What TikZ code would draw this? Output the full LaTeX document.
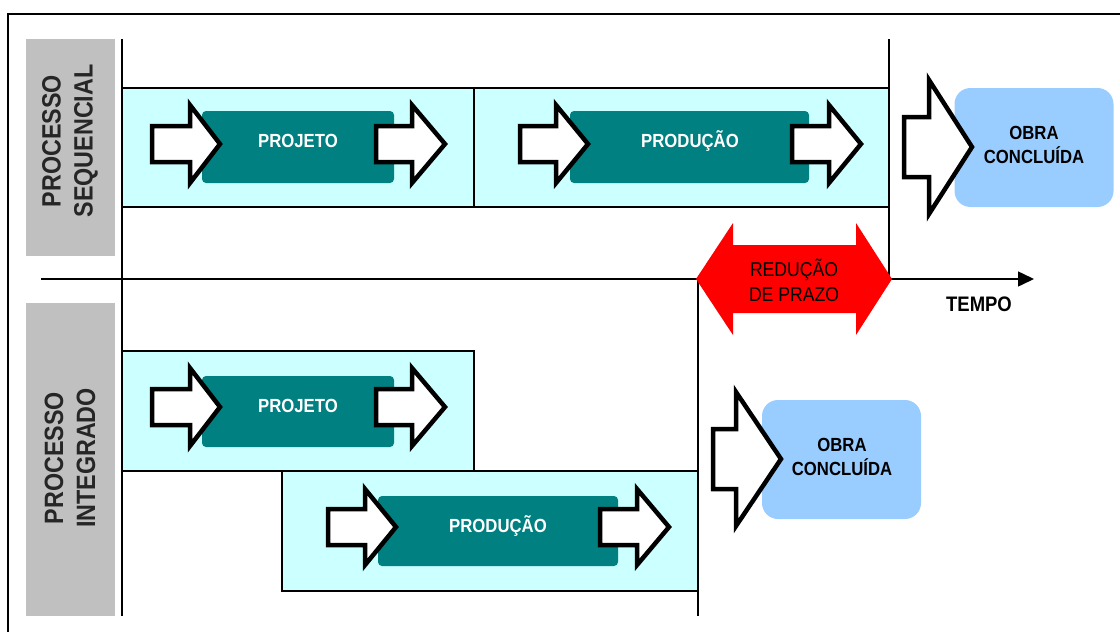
\documentclass[tikz,border=0pt]{standalone}
\usepackage{fontspec}
\setmainfont{Liberation Sans}[FakeStretch=0.88]
\usetikzlibrary{arrows.meta}

\definecolor{bandfill}{HTML}{CCFFFF}
\definecolor{tealbox}{HTML}{008080}
\definecolor{greybox}{HTML}{C0C0C0}
\definecolor{obrafill}{HTML}{99CCFF}
\definecolor{redarrow}{HTML}{FF0000}

\tikzset{
  band/.style={draw=black, line width=1.2pt, fill=bandfill},
  stage/.style={fill=tealbox, rounded corners=4pt, inner sep=0pt},
  stagetext/.style={text=white, font=\fontsize{19}{23}\selectfont\bfseries, inner sep=0pt},
  obrabox/.style={fill=obrafill, rounded corners=16pt, inner sep=0pt, minimum width=159pt, minimum height=119pt},
  obratext/.style={font=\fontsize{19}{24}\selectfont\bfseries, align=center, inner sep=0pt},
  sidebox/.style={fill=greybox, inner sep=0pt, minimum width=89pt},
  sidetext/.style={rotate=90, font=\fontsize{26.5}{32}\selectfont\bfseries, text=black!85, align=center, inner sep=0pt},
  axisline/.style={line width=1.5pt},
  arrowbody/.style={draw=black, fill=white, line width=4.5pt, line join=miter, miter limit=10},
}

% block arrow: start x, head base x, tip x, centre y, shaft half height, head half height
\newcommand\blockarrow[6]{%
  \draw[arrowbody] (#1,#4-#5) -- (#2,#4-#5) -- (#2,#4-#6) -- (#3,#4)
    -- (#2,#4+#6) -- (#2,#4+#5) -- (#1,#4+#5) -- cycle;}

\begin{document}
\begin{tikzpicture}[x=1pt, y=-1pt]
\useasboundingbox (0,0) rectangle (1120,632);

% outer frame
\draw[line width=1.5pt] (8,632) -- (8,14) -- (1120,14);

% side captions
\node[sidebox, minimum height=217pt] (seqside) at (70.5,147.5) {};
\node[sidetext] at (70,141) {PROCESSO\\SEQUENCIAL};
\node[sidebox, minimum height=313pt] (intside) at (70.5,459.5) {};
\node[sidetext] at (70,458) {PROCESSO\\INTEGRADO};

% sequential process bands
\draw[band] (122,88) rectangle (474,207);
\draw[band] (474,88) rectangle (889,207);
% integrated process bands
\draw[band] (122,351) rectangle (474,471);
\draw[band] (282,471) rectangle (698,591);

% time axis and reference lines
\coordinate (axisstart) at (41,279);
\coordinate (axisend) at (1034,279);
\draw[axisline, -{Triangle[length=16pt,width=15pt]}] (axisstart) -- (axisend);
\coordinate (v1top) at (122,39);
\coordinate (v1bot) at (122,616);
\draw[axisline] (v1top) -- (v1bot);
\coordinate (v2top) at (889,39);
\coordinate (v2bot) at (889,280);
\draw[axisline] (v2top) -- (v2bot);
\coordinate (v3top) at (698,279);
\coordinate (v3bot) at (698,616);
\draw[axisline] (v3top) -- (v3bot);
\node[font=\fontsize{21}{25}\selectfont\bfseries, inner sep=0pt] (tempo) at (979,304) {TEMPO};

% stage boxes
\node[stage, minimum width=192pt, minimum height=72pt] (pj1) at (298,147) {};
\node[stagetext] (pj1t) at (298,141) {PROJETO};
\node[stage, minimum width=239pt, minimum height=72pt] (pd1) at (689.5,147) {};
\node[stagetext] (pd1t) at (690,141) {PRODUÇÃO};
\node[stage, minimum width=192pt, minimum height=71pt] (pj2) at (298,411.5) {};
\node[stagetext] (pj2t) at (298,406) {PROJETO};
\node[stage, minimum width=240pt, minimum height=70pt] (pd2) at (498,531) {};
\node[stagetext] (pd2t) at (498,526) {PRODUÇÃO};

% flow arrows, sequential
\blockarrow{152}{190}{220}{144}{18}{39}
\blockarrow{376}{412}{445}{144}{18}{39}
\blockarrow{520}{556}{588}{144}{18}{39}
\blockarrow{792}{829}{861}{144}{18}{39}
% flow arrows, integrated
\blockarrow{152}{190}{220}{407}{18}{39}
\blockarrow{376}{412}{445}{407}{18}{39}
\blockarrow{328}{365}{396}{527}{18}{38}
\blockarrow{600}{637}{669}{527}{18}{38}

% finished work
\node[obrabox] (obra1) at (1034,147.5) {};
\node[obratext] at (1034,145) {OBRA\\CONCLUÍDA};
\node[obrabox] (obra2) at (841.5,459.5) {};
\node[obratext] at (842,457) {OBRA\\CONCLUÍDA};
\blockarrow{904}{929}{972}{147}{30}{67}
\blockarrow{713}{736}{781}{459}{30}{67}

% lead time reduction
\fill[redarrow] (696,279) -- (733,223) -- (733,245) -- (856,245) -- (856,223)
  -- (892,279) -- (856,335) -- (856,313) -- (733,313) -- (733,335) -- cycle;
\node[font=\fontsize{20}{25}\selectfont, align=center, inner sep=0pt] (reducao) at (794,280) {REDUÇÃO\\DE PRAZO};
\end{tikzpicture}
\end{document}
